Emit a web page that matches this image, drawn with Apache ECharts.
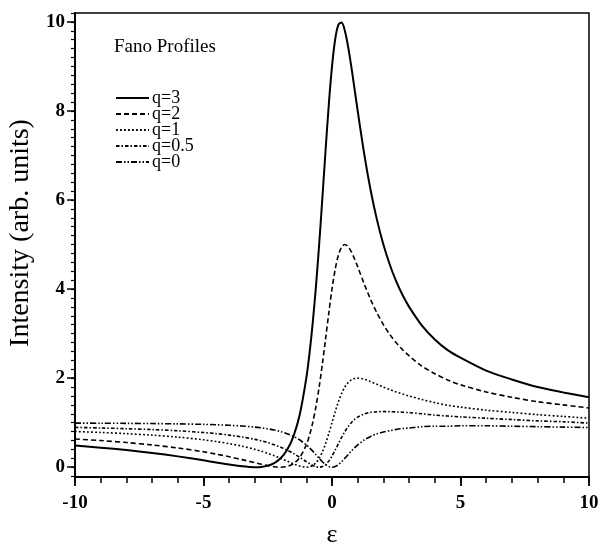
<!DOCTYPE html>
<html>
<head>
<meta charset="utf-8">
<script src="https://cdn.jsdelivr.net/npm/echarts@6/dist/echarts.min.js"></script>
<style>
html,body{margin:0;padding:0;background:#fff;}
#chart{width:600px;height:542px;}
</style>
</head>
<body>
<div id="chart"></div>
<script>
// ---- data ----
var eps = [-10,-9,-8,-7,-6,-5,-4.5,-4,-3.5,-3,-2.75,-2.5,-2.25,-2,-1.75,-1.5,-1.25,-1,-0.875,-0.75,-0.625,-0.5,-0.375,-0.25,-0.125,0,0.125,0.25,0.375,0.5,0.625,0.75,0.875,1,1.25,1.5,1.75,2,2.25,2.5,2.75,3,3.5,4,4.5,5,6,7,8,9,10];
var q3  = [0.485,0.439,0.385,0.32,0.243,0.154,0.106,0.059,0.019,0,0.007,0.035,0.093,0.2,0.385,0.692,1.195,2,2.558,3.24,4.056,5,6.041,7.118,8.138,9,9.615,9.941,9.986,9.8,9.449,9,8.504,8,7.049,6.231,5.554,5,4.546,4.172,3.861,3.6,3.18,2.87,2.63,2.46,2.17,1.97,1.80,1.68,1.57];
var q2  = [0.634,0.598,0.554,0.5,0.432,0.346,0.294,0.235,0.17,0.1,0.066,0.035,0.01,0,0.015,0.077,0.22,0.5,0.717,1.0,1.36,1.8,2.315,2.882,3.462,4,4.446,4.765,4.945,5,4.955,4.84,4.681,4.5,4.122,3.769,3.462,3.2,2.979,2.793,2.635,2.5,2.27,2.10,1.96,1.85,1.69,1.57,1.47,1.40,1.33];
var q1  = [0.802,0.78,0.754,0.72,0.676,0.615,0.576,0.529,0.472,0.4,0.358,0.31,0.258,0.2,0.138,0.077,0.024,0,0.009,0.04,0.101,0.2,0.342,0.529,0.754,1,1.246,1.471,1.658,1.8,1.899,1.96,1.991,2,1.976,1.923,1.862,1.8,1.742,1.69,1.642,1.6,1.52,1.45,1.39,1.35,1.28,1.23,1.18,1.14,1.10];
var q05 = [0.894,0.881,0.865,0.845,0.818,0.779,0.753,0.721,0.679,0.625,0.591,0.552,0.505,0.45,0.385,0.308,0.22,0.125,0.08,0.04,0.011,0,0.014,0.059,0.138,0.25,0.385,0.529,0.671,0.8,0.91,1.0,1.071,1.125,1.195,1.231,1.246,1.25,1.247,1.241,1.234,1.225,1.20,1.17,1.15,1.13,1.10,1.07,1.04,1.02,0.99];
var q0  = [0.99,0.988,0.985,0.98,0.973,0.962,0.953,0.941,0.925,0.9,0.883,0.862,0.835,0.8,0.754,0.692,0.61,0.5,0.434,0.36,0.281,0.2,0.123,0.059,0.015,0,0.015,0.059,0.123,0.2,0.281,0.36,0.434,0.5,0.61,0.69,0.75,0.79,0.82,0.85,0.87,0.88,0.91,0.92,0.92,0.93,0.93,0.92,0.91,0.90,0.89];
var seriesNames = ['q=3','q=2','q=1','q=0.5','q=0'];
var xTicks = [-10,-5,0,5,10];
var yTicks = [0,2,4,6,8,10];
var titleText = 'Fano Profiles';
var xName = '\u03B5';
var yName = 'Intensity (arb. units)';

// ---- chart ----
var allSeries = [q3,q2,q1,q05,q0];
var dashes = ['solid',[5,3],[1.8,2.2],[3.5,2,1.5,2],[6,2,1.5,2,1.5,2]];
var widths = [2,1.6,1.6,1.6,1.6];
function zip(ys){ return eps.map(function(x,i){ return [x, ys[i]]; }); }
var yMinor = [];
for (var m = -1; m <= 51; m++) yMinor.push(Math.round(m*0.2*10)/10);
var xMinor = [];
for (var k = -10; k <= 10; k++) xMinor.push(k);

var serif = 'Liberation Serif, Times New Roman, serif';
var chart = echarts.init(document.getElementById('chart'), null, {renderer:'canvas'});
chart.setOption({
  animation: false,
  backgroundColor: '#fff',
  title: {
    text: titleText, left: 109, top: 33,
    textStyle: {fontFamily: serif, fontSize: 19, fontWeight: 'normal', color: '#000'}
  },
  legend: {
    orient: 'vertical', left: 110, top: 84,
    data: seriesNames,
    itemWidth: 33, itemHeight: 10, itemGap: -2,
    itemStyle: {opacity: 0},
    textStyle: {fontFamily: serif, fontSize: 18, color: '#000', lineHeight: 16, padding: [0,0,0,-2]},
    inactiveColor: '#000'
  },
  grid: {
    left: 75, right: 11, top: 13, bottom: 65,
    outerBoundsMode: 'none',
    show: true, borderColor: '#000', borderWidth: 1.5
  },
  xAxis: [{
    type: 'value', min: -10, max: 10, interval: 5, position: 'bottom',
    axisLine: {show: true, onZero: false, lineStyle: {color: '#000', width: 2}},
    axisTick: {show: true, inside: false, length: 6, customValues: xMinor, lineStyle: {color: '#000', width: 1.5}},
    splitLine: {show: false},
    axisLabel: {
      margin: 17, color: '#000', fontFamily: serif, fontSize: 19, fontWeight: 'bold',
      customValues: xTicks
    },
    name: xName, nameLocation: 'middle', nameGap: 45,
    nameTextStyle: {fontFamily: serif, fontSize: 26, color: '#000'}
  },{
    type: 'value', min: -10, max: 10, interval: 5, position: 'bottom',
    axisLine: {show: false, onZero: false},
    axisTick: {show: true, inside: false, length: 9, customValues: xTicks, lineStyle: {color: '#000', width: 1.8}},
    axisLabel: {show: false}, splitLine: {show: false}
  }],
  yAxis: [{
    type: 'value', min: -0.22, max: 10.2,
    axisLine: {show: true, onZero: false, lineStyle: {color: '#000', width: 2}},
    axisTick: {show: true, inside: false, length: 8, customValues: yTicks, lineStyle: {color: '#000', width: 1.5}},
    splitLine: {show: false},
    axisLabel: {
      margin: 10, color: '#000', fontFamily: serif, fontSize: 19, fontWeight: 'bold',
      customValues: yTicks
    },
    name: yName, nameLocation: 'middle', nameGap: 35,
    nameTextStyle: {fontFamily: serif, fontSize: 28, color: '#000', padding: [0,0,0,24]}
  },{
    type: 'value', min: -0.22, max: 10.2, position: 'left',
    axisLine: {show: false, onZero: false},
    axisTick: {show: true, inside: false, length: 4, customValues: yMinor, lineStyle: {color: '#000', width: 1.2}},
    axisLabel: {show: false}, splitLine: {show: false}
  }],
  series: allSeries.map(function(ys, i){
    return {
      name: seriesNames[i], type: 'line', data: zip(ys),
      xAxisIndex: 0, yAxisIndex: 0,
      showSymbol: false, symbol: 'none', smooth: 0.3,
      lineStyle: {color: '#000', width: widths[i], type: dashes[i]},
      itemStyle: {color: '#000'}
    };
  })
});
</script>
</body>
</html>
